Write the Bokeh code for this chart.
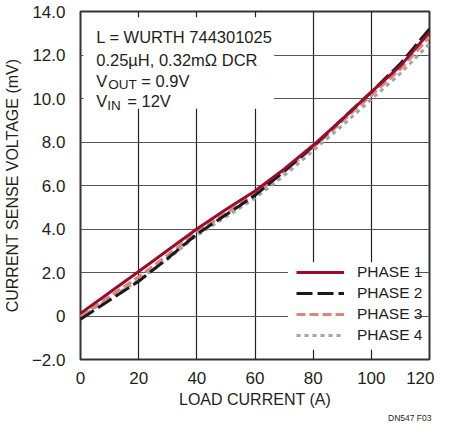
from bokeh.plotting import figure
from bokeh.models import (Legend, LegendItem, BoxAnnotation, Label, FixedTicker, Title)
from bokeh.embed import file_html
from bokeh.resources import INLINE

# ---- data ----
load_current = [0, 10, 20, 30, 40, 50, 60, 70, 80, 90, 100, 110, 120]
phase1 = [0.12, 1.08, 2.05, 3.02, 4.0, 4.9, 5.75, 6.75, 7.85, 9.05, 10.3, 11.5, 13.05]
phase2 = [-0.15, 0.72, 1.6, 2.65, 3.76, 4.65, 5.55, 6.65, 7.8, 9.05, 10.3, 11.6, 13.2]
phase3 = [0.0, 0.9, 1.8, 2.8, 3.85, 4.72, 5.6, 6.65, 7.75, 8.95, 10.15, 11.35, 12.82]
phase4 = [-0.05, 0.8, 1.65, 2.62, 3.7, 4.55, 5.42, 6.45, 7.6, 8.75, 9.96, 11.15, 12.52]
series_names = ["PHASE 1", "PHASE 2", "PHASE 3", "PHASE 4"]
x_ticks = [0, 20, 40, 60, 80, 100, 120]
y_ticks = [-2, 0, 2, 4, 6, 8, 10, 12, 14]
y_tick_labels = ["\u22122.0", "0", "2.0", "4.0", "6.0", "8.0", "10.0", "12.0", "14.0"]

FONT = "Liberation Sans"
TXT = "#231f20"

p = figure(width=434, height=422, output_backend="svg", toolbar_location=None,
           x_range=(0, 120), y_range=(-2, 14),
           min_border_left=74, min_border_right=5, min_border_top=11, min_border_bottom=57)

p.outline_line_color = "#333333"
p.outline_line_width = 2
p.background_fill_color = "white"
p.border_fill_color = "white"

for ax in (p.xaxis[0], p.yaxis[0]):
    ax.axis_line_color = None
    ax.major_tick_line_color = None
    ax.minor_tick_line_color = None
    ax.major_label_text_font = FONT
    ax.major_label_text_font_size = "17px"
    ax.major_label_text_color = TXT
    ax.axis_label_text_font = FONT
    ax.axis_label_text_font_size = "16px"
    ax.axis_label_text_font_style = "normal"
    ax.axis_label_text_color = TXT

p.xaxis.ticker = FixedTicker(ticks=x_ticks)
p.yaxis.ticker = FixedTicker(ticks=y_ticks)
p.yaxis.major_label_overrides = {t: l for t, l in zip(y_ticks, y_tick_labels)}
p.xaxis.axis_label = "LOAD CURRENT (A)"
p.yaxis.axis_label = "CURRENT SENSE VOLTAGE (mV)"
p.xaxis.major_label_standoff = 6
p.yaxis.major_label_standoff = 9
p.xaxis.axis_label_standoff = 4
p.yaxis.axis_label_standoff = 8

p.xgrid.grid_line_color = "#222222"
p.ygrid.grid_line_color = "#555555"
p.xgrid.grid_line_width = 1.2
p.ygrid.grid_line_width = 1.2
p.xgrid.ticker = FixedTicker(ticks=x_ticks)
p.ygrid.ticker = FixedTicker(ticks=y_ticks)

# footnote under the axis title, right aligned
p.add_layout(Title(text="DN547 F03", align="right", text_font=FONT, text_font_size="8.5px",
                   text_font_style="normal", text_color=TXT, standoff=0, offset=-2), "below")

# white cut-outs behind the note and the legend
note_box = BoxAnnotation(left=1.0, right=66.6, top=13.73, bottom=9.53,
                         fill_color="white", fill_alpha=1, line_color=None, level="underlay")
leg_box = BoxAnnotation(left=71.3, right=115.3, top=2.47, bottom=-1.55,
                        fill_color="white", fill_alpha=1, line_color=None, level="underlay")
p.add_layout(note_box)
p.add_layout(leg_box)

r4 = p.line(load_current, phase4, line_color="#a3a3a3", line_width=3, line_dash="4 4")
r3 = p.line(load_current, phase3, line_color="#d9857c", line_width=3, line_dash="9 4")
r2 = p.line(load_current, phase2, line_color="#1a1a1a", line_width=3, line_dash="16 5")
r1 = p.line(load_current, phase1, line_color="#9c0a2e", line_width=3)

legend = Legend(items=[LegendItem(label=series_names[0], renderers=[r1]),
                       LegendItem(label=series_names[1], renderers=[r2]),
                       LegendItem(label=series_names[2], renderers=[r3]),
                       LegendItem(label=series_names[3], renderers=[r4])],
                location=(216, 14), glyph_width=48, glyph_height=20, label_height=20,
                spacing=1, padding=0, margin=0, label_standoff=13,
                border_line_color=None, background_fill_alpha=0,
                label_text_font=FONT, label_text_font_size="15.5px", label_text_color=TXT)
p.add_layout(legend, "center")

def lab(x, y, text, size="16.5px", xoff=0):
    p.add_layout(Label(x=x, y=y, text=text, x_offset=xoff, text_font=FONT,
                       text_font_size=size, text_color=TXT, text_baseline="alphabetic",
                       text_align="left"))

NX = 5.41
lab(NX, 12.82, "L = WURTH 744301025")
lab(NX, 11.79, "0.25\u00b5H, 0.32m\u03a9 DCR")
lab(NX, 10.79, "V")
lab(NX, 10.63, "OUT", size="13.5px", xoff=12)
lab(NX, 10.79, "= 0.9V", xoff=45)
lab(NX, 9.89, "V")
lab(NX, 9.66, "IN", size="13.5px", xoff=11)
lab(NX, 9.89, "= 12V", xoff=31)

open("out.html", "w").write(file_html(p, INLINE))
